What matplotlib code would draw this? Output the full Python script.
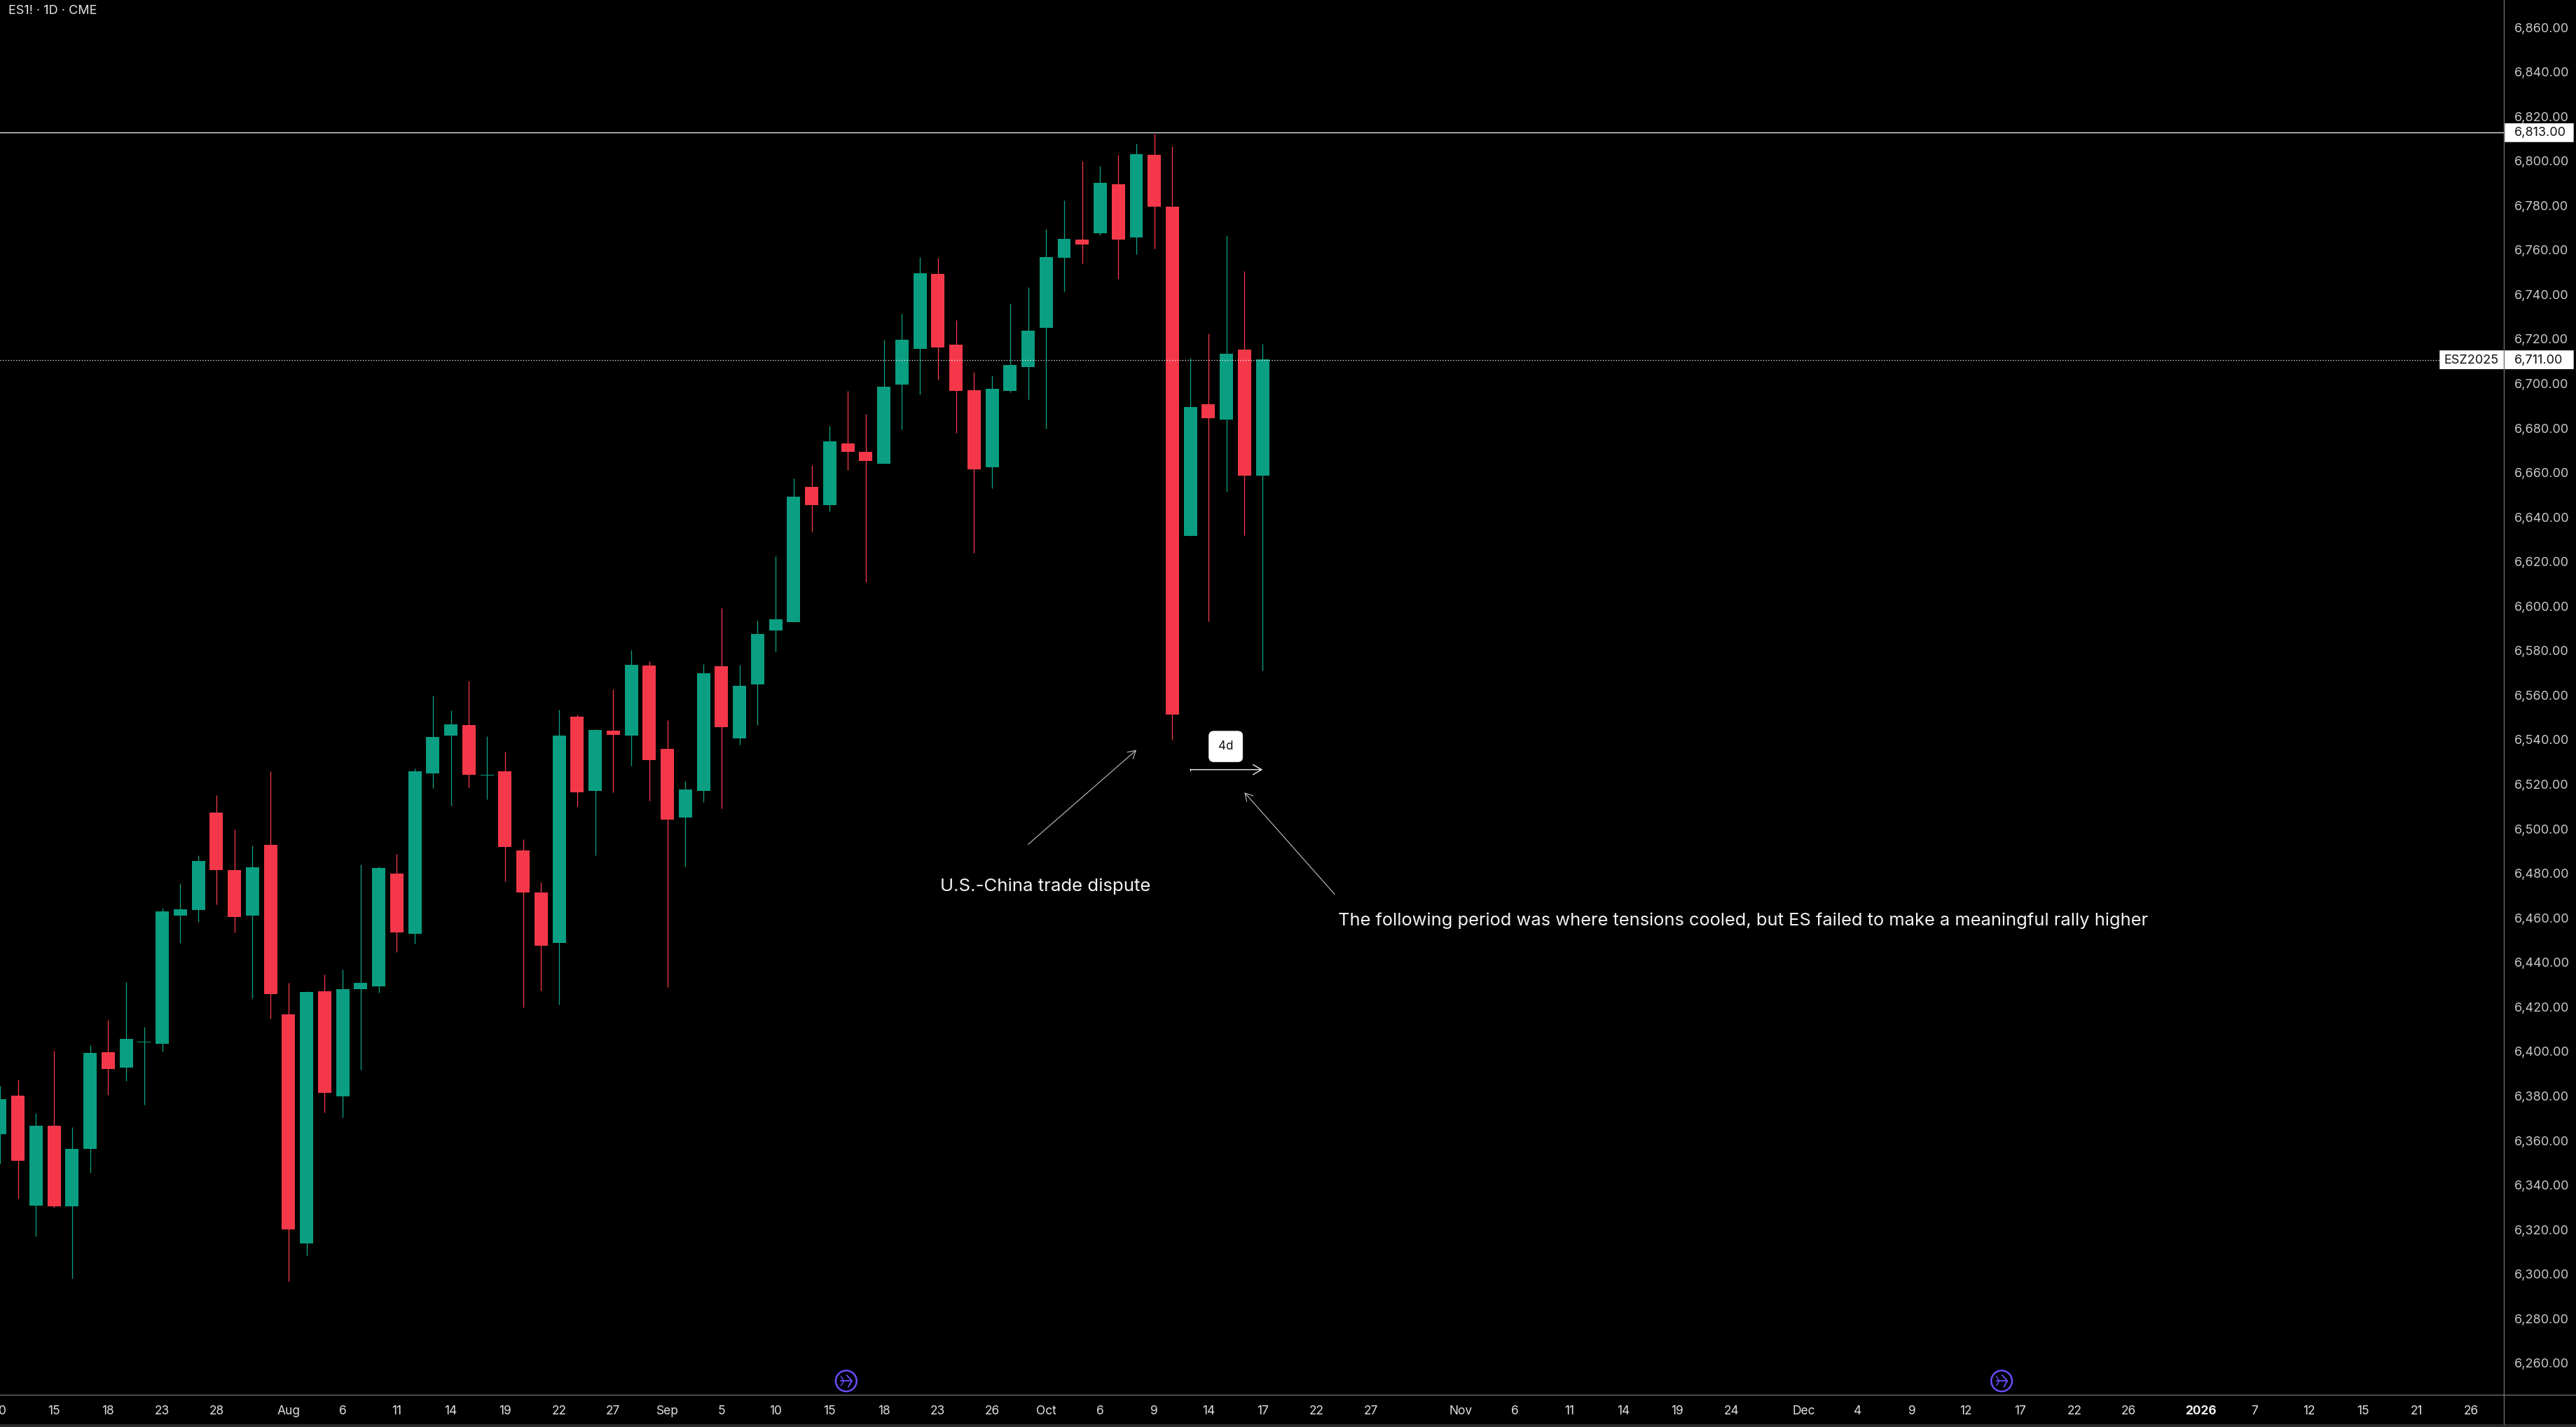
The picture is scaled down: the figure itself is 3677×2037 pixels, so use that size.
import matplotlib
matplotlib.use("Agg")
import matplotlib.pyplot as plt
from matplotlib.patches import FancyBboxPatch, Rectangle, Circle
from matplotlib.lines import Line2D
from matplotlib.ticker import FuncFormatter
from matplotlib.transforms import ScaledTranslation

W, H = 3677, 2037
plt.rcParams['font.family'] = ['Inter', 'DejaVu Sans']

opens = [6363.2,6380.5,6331.1,6366.8,6330.7,6356.6,6400.0,6393.1,6404.4,6403.8,6461.4,6463.8,6507.5,6481.8,6461.4,6493.1,
         6417.0,6314.1,6427.2,6380.1,6428.2,6429.4,6480.2,6453.1,6525.2,6542.2,6546.9,6524.2,6526.2,6490.7,6471.8,6449.1,
         6550.7,6517.4,6544.4,6542.2,6573.7,6536.3,6505.4,6517.3,6573.3,6540.9,6565.2,6589.4,6593.3,6653.9,6645.8,6673.4,
         6669.7,6664.2,6699.9,6715.9,6749.6,6717.8,6697.3,6662.7,6697.0,6707.6,6725.3,6756.8,6764.9,6767.8,6789.8,6766.0,
         6803.0,6779.7,6631.9,6691.0,6684.1,6715.6,6658.8]
highs = [6385.0,6387.7,6372.6,6400.6,6366.2,6403.2,6414.4,6431.5,6411.4,6464.8,6475.8,6488.5,6515.5,6500.1,6492.9,6526.2,
         6431.0,6427.2,6434.9,6437.1,6484.2,6483.4,6489.1,6527.4,6560.1,6553.5,6566.7,6541.8,6535.0,6495.7,6476.4,6553.9,
         6551.7,6545.0,6562.9,6580.6,6575.6,6549.1,6521.8,6574.3,6599.4,6574.0,6593.7,6622.8,6657.6,6663.7,6681.2,6697.0,
         6686.7,6719.9,6731.6,6757.1,6756.8,6728.8,6705.5,6704.0,6736.3,6743.6,6769.8,6782.6,6800.3,6798.0,6803.0,6808.0,
         6812.6,6806.8,6711.8,6722.8,6766.9,6750.8,6718.1]
lows = [6350.0,6334.1,6317.3,6330.0,6298.4,6345.8,6380.7,6387.1,6376.3,6400.4,6449.1,6458.6,6466.4,6453.7,6424.2,6415.0,
        6297.0,6308.6,6372.9,6370.7,6392.1,6426.6,6444.9,6448.7,6518.6,6510.7,6519.0,6513.5,6476.8,6420.0,6427.6,6421.4,
        6510.3,6488.5,6516.8,6528.6,6513.0,6429.2,6483.3,6512.2,6509.5,6538.0,6546.9,6579.9,6593.3,6633.7,6642.9,6661.5,
        6611.1,6664.2,6679.8,6695.5,6702.1,6678.2,6624.4,6653.3,6696.4,6693.2,6680.0,6741.8,6754.2,6766.9,6747.4,6758.4,
        6760.9,6540.4,6631.9,6593.5,6651.6,6632.1,6571.4]
closes = [6378.9,6351.2,6366.8,6330.7,6356.6,6399.6,6392.3,6406.0,6404.8,6463.2,6464.2,6485.9,6481.8,6460.8,6483.0,6426.0,
          6320.3,6427.0,6381.7,6428.2,6431.0,6482.6,6453.7,6526.2,6541.6,6547.3,6524.6,6524.6,6492.1,6471.8,6447.7,6542.2,
          6516.8,6544.6,6542.4,6573.9,6531.1,6504.5,6518.0,6570.1,6546.1,6564.5,6587.8,6594.4,6649.4,6645.8,6674.3,6669.7,
          6665.5,6698.9,6720.0,6749.9,6716.5,6697.0,6661.8,6697.9,6708.7,6724.1,6757.1,6765.2,6762.7,6790.5,6764.9,6803.4,
          6779.7,6551.5,6689.7,6684.7,6713.8,6658.8,6711.2]

x_tick_pos = [0,3,6,9,12,16,19,22,25,28,31,34,37,40,43,46,49,52,55,58,61,64,67,70,73,76,81,84,87,90,93,96,
              100,103,106,109,112,115,118,122,125,128,131,134,137]
x_tick_labels = ['10','15','18','23','28','Aug','6','11','14','19','22','27','Sep','5','10','15','18','23','26','Oct',
                 '6','9','14','17','22','27','Nov','6','11','14','19','24','Dec','4','9','12','17','22','26','2026',
                 '7','12','15','21','26']
y_ticks = list(range(6260, 6861, 20))

resistance_level = 6813.0
last_price = 6711.0
contract_label = 'ESZ2025'
header = 'ES1! · 1D · CME'
note_left = 'U.S.-China trade dispute'
note_right = 'The following period was where tensions cooled, but ES failed to make a meaningful rally higher'
range_label = '4d'

# annotation anchors in (bar index, price)
arrow_left = [(57.0, 6493.3), (63.0, 6535.7)]
arrow_right = [(74.0, 6470.9), (69.0, 6516.6)]
range_arrow = [(66.0, 6526.9), (70.0, 6526.9)]
note_left_at = (57.96, 6474.6)
note_right_at = (74.2, 6458.9)
range_label_at = (67.96, 6537.3)
event_icons_at = [47, 111]

GREEN = '#0a9e82'
RED = '#f4384a'
AXIS = '#6e6e6e'
TICK = '#c9c9c9'
BG = '#000000'

fig = plt.figure(figsize=(W/100, H/100), dpi=100, facecolor=BG)
AX_R, AX_B = 3574.3, 1991.0
ax = fig.add_axes([0, 1-AX_B/H, AX_R/W, AX_B/H], facecolor=BG)
ax.set_xlim(0.1308, 138.83)
ax.set_ylim(6246.1, 6872.6)
SX = AX_R/(138.83-0.1308)
SY = AX_B/(6872.6-6246.1)

xs = list(range(len(opens)))
for i, o, h, l, c in zip(xs, opens, highs, lows, closes):
    col = GREEN if c >= o else RED
    ax.vlines(i, l, h, color=col, lw=0.95, zorder=3)
    ax.bar(i, abs(c-o), bottom=min(o, c), width=0.737, color=col, linewidth=0, zorder=4)

ax.axhline(resistance_level, color='#e6e6e6', lw=1.0, zorder=5)
ax.axhline(last_price, color='#ffffff', lw=0.9, ls=(0, (1, 2)), zorder=5, xmax=3482/AX_R)

ax.yaxis.tick_right()
ax.set_yticks(y_ticks)
ax.yaxis.set_major_formatter(FuncFormatter(lambda v, p: f'{v:,.2f}'))
ax.tick_params(axis='y', length=0, pad=10.3, labelsize=13, labelcolor=TICK)
ax.set_xticks(x_tick_pos)
ax.set_xticklabels(x_tick_labels)
ax.tick_params(axis='x', length=0, pad=11, labelsize=12.5, labelcolor='#e0e0e0')
up = ScaledTranslation(0, 1/100, fig.dpi_scale_trans)
for lab in ax.get_yticklabels():
    lab.set_transform(lab.get_transform() + up)
for lab, txt in zip(ax.get_xticklabels(), x_tick_labels):
    if txt == '2026':
        lab.set_fontweight('bold')
        lab.set_color('#f0f0f0')
for side in ('top', 'left'):
    ax.spines[side].set_visible(False)
for side in ('right', 'bottom'):
    ax.spines[side].set_color(AXIS)
    ax.spines[side].set_linewidth(1.0)

def fx(x): return x/W
def fy(y): return 1-y/H

fig.add_artist(Line2D([fx(AX_R)]*2, [fy(AX_B), fy(2033)], color=AXIS, lw=1.0))
fig.add_artist(Line2D([fx(AX_R), 1], [fy(AX_B)]*2, color=AXIS, lw=1.0))
fig.add_artist(Rectangle((0, 0), 1, 4/H, transform=fig.transFigure, color='#2a2a2a', lw=0))

# price labels on the right scale
def y_px(v): return (6872.6-v)*SY
def price_box(v, left, text_items):
    top = y_px(v)-13.4
    fig.add_artist(FancyBboxPatch((fx(left+3), fy(top+26.8)+3/H), (3673.7-left-6)/W, (26.8-6)/H,
                                  boxstyle='round,pad=0', transform=fig.transFigure, fc='white', ec='white', lw=4.3,
                                  zorder=6))
    for tx, s in text_items:
        fig.text(fx(tx), fy(y_px(v)+0.5), s, color='#111111', fontsize=13, va='center', ha='left', zorder=7)

price_box(resistance_level, AX_R+1, [(3588.7, f'{resistance_level:,.2f}')])
price_box(last_price, 3482.3, [(3488.0, contract_label), (3588.7, f'{last_price:,.2f}')])
fig.add_artist(Line2D([fx(AX_R)]*2, [fy(y_px(last_price)-13.4), fy(y_px(last_price)+13.4)], color=AXIS, lw=1.0, zorder=8))

fig.text(fx(11.5), fy(15), header, color='#e4e4e4', fontsize=13, va='center', ha='left')

arrow_kw = dict(arrowstyle='->,head_length=0.55,head_width=0.32', color='#cfcfcf', lw=0.75, shrinkA=0, shrinkB=0,
                mutation_scale=14)
ax.annotate('', xy=arrow_left[1], xytext=arrow_left[0], arrowprops=arrow_kw, zorder=6)
ax.annotate('', xy=arrow_right[1], xytext=arrow_right[0], arrowprops=arrow_kw, zorder=6)
ax.annotate('', xy=range_arrow[1], xytext=range_arrow[0],
            arrowprops=dict(arrowstyle='->,head_length=0.55,head_width=0.32', color='#f2f2f2', lw=1.0,
                            shrinkA=0, shrinkB=0, mutation_scale=16), zorder=6)
ax.plot([range_arrow[0][0]], [range_arrow[0][1]], marker='|', ms=3, mew=0.8, color='#f2f2f2', zorder=6)

ax.text(*note_left_at, note_left, color='#f2f2f2', fontsize=18.6, ha='center', va='center', zorder=6)
ax.text(*note_right_at, note_right, color='#f2f2f2', fontsize=18.35, ha='left', va='center', zorder=6)
ax.text(*range_label_at, range_label, color='#111111', fontsize=12.3, ha='center', va='center', zorder=7,
        bbox=dict(boxstyle='round,pad=0.78,rounding_size=0.4', fc='white', ec='white', lw=0.5))

# event markers sitting just above the time scale
PURPLE = '#6b4cff'
for idx in event_icons_at:
    px = (idx-0.1308)*SX
    ax_icon = fig.add_axes([fx(px-16.5), fy(1971.3+16.5), 33/W, 33/H], facecolor='none')
    ax_icon.set_xlim(-1, 1); ax_icon.set_ylim(-1, 1); ax_icon.axis('off')
    ax_icon.add_patch(Circle((0, 0), 0.9, fc='none', ec=PURPLE, lw=1.8))
    ax_icon.plot([-0.45, 0.5], [0.0, 0.0], color=PURPLE, lw=1.3)
    ax_icon.plot([0.05, 0.5, 0.2], [0.5, 0.0, -0.5], color=PURPLE, lw=1.3)
    ax_icon.plot([-0.45, -0.2, -0.45], [0.4, 0.0, -0.4], color=PURPLE, lw=1.0)

fig.savefig('out.png', dpi=100, facecolor=BG)
